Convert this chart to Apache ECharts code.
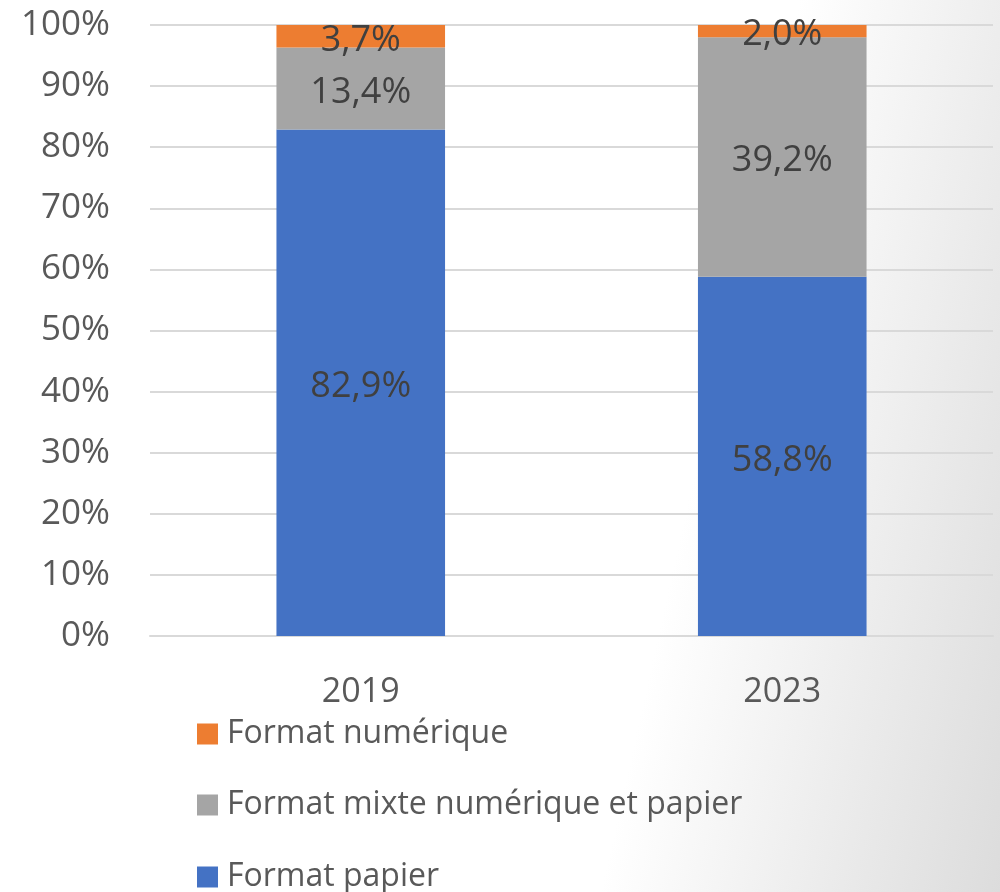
<!DOCTYPE html>
<html><head><meta charset="utf-8">
<script src="https://cdn.jsdelivr.net/npm/echarts@6/dist/echarts.min.js"></script>
<style>html,body{margin:0;padding:0;}#c{width:1000px;height:892px;}</style>
</head><body><div id="c"></div>
<script>
const categories = ['2019', '2023'];
const seriesNames = ['Format papier', 'Format mixte numérique et papier', 'Format numérique'];
const papier = [82.9, 58.8];
const mixte = [13.4, 39.2];
const numerique = [3.7, 2.0];
const legendOrder = ['Format numérique', 'Format mixte numérique et papier', 'Format papier'];
const yTicks = [0, 10, 20, 30, 40, 50, 60, 70, 80, 90, 100];

const FONT = 'Open Sans';
const colors = ['#4472C4', '#A5A5A5', '#ED7D31'];
const values = [papier, mixte, numerique];
const fmt = v => v.toFixed(1).replace('.', ',') + '%';
const legendTops = [718, 789, 861];

const chart = echarts.init(document.getElementById('c'));
chart.setOption({
  backgroundColor: {
    type: 'linear', x: 700, y: 446, x2: 1081, y2: 531, global: true,
    colorStops: [{offset: 0, color: '#ffffff'}, {offset: 1, color: '#dcdcdc'}]
  },
  animation: false,
  textStyle: {fontFamily: FONT},
  grid: {left: 150, right: 7, top: 25, bottom: 256},
  legend: legendOrder.map((name, i) => ({
    orient: 'vertical', left: 197, top: legendTops[i], padding: 0,
    itemWidth: 21, itemHeight: 21, icon: 'rect', itemGap: 10,
    data: [name],
    textStyle: {fontFamily: FONT, fontSize: 32, color: '#595959', padding: [0, 0, 0, 4]}
  })),
  xAxis: {
    type: 'category', data: categories,
    axisLine: {show: true, lineStyle: {color: '#d9d9d9', width: 2}},
    axisTick: {show: false},
    axisLabel: {fontFamily: FONT, fontSize: 34, color: '#595959', margin: 39}
  },
  yAxis: {
    type: 'value', min: 0, max: 100, interval: 10,
    axisLine: {show: false}, axisTick: {show: false},
    splitLine: {lineStyle: {color: '#d9d9d9', width: 2}},
    axisLabel: {fontFamily: FONT, fontSize: 35, color: '#595959', margin: 40,
      formatter: v => yTicks.includes(v) ? v + '%' : ''}
  },
  series: seriesNames.map((name, i) => ({
    name, type: 'bar', stack: 'total', barWidth: '40%',
    data: values[i],
    itemStyle: {color: colors[i]},
    label: {show: true, position: 'inside', offset: [0, 4], fontFamily: FONT, fontSize: 36, color: '#404040',
      formatter: p => fmt(p.value)}
  }))
});
</script></body></html>
